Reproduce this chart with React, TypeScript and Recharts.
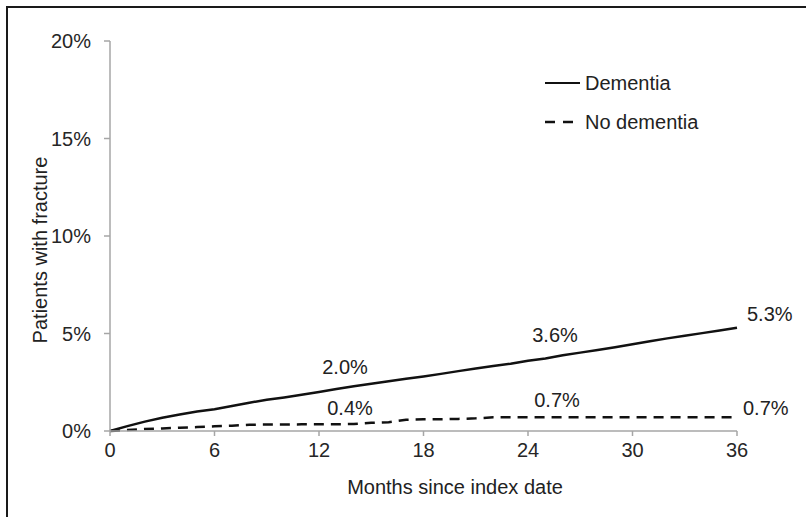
import React from "react";
import { LineChart, Line, XAxis, YAxis } from "recharts";

const FONT = '"Liberation Sans", Arial, sans-serif';

// months since index date
const months = [
  0, 1, 2, 3, 4, 5, 6, 7, 8, 9, 10, 11, 12, 13, 14, 15, 16, 17, 18, 19, 20, 21, 22, 23, 24, 25, 26, 27,
  28, 29, 30, 31, 32, 33, 34, 35, 36,
];
// cumulative % of patients with fracture
const dementia = [
  0, 0.25, 0.48, 0.68, 0.85, 1.0, 1.12, 1.28, 1.45, 1.6, 1.72, 1.86, 2.0, 2.15, 2.3, 2.42, 2.55, 2.68,
  2.8, 2.93, 3.07, 3.2, 3.33, 3.45, 3.6, 3.72, 3.88, 4.02, 4.15, 4.3, 4.45, 4.6, 4.75, 4.88, 5.02, 5.15,
  5.3,
];
const noDementia = [
  0, 0.05, 0.1, 0.13, 0.17, 0.2, 0.24, 0.27, 0.32, 0.33, 0.33, 0.34, 0.34, 0.35, 0.36, 0.42, 0.45, 0.58,
  0.6, 0.6, 0.62, 0.65, 0.7, 0.7, 0.7, 0.7, 0.7, 0.7, 0.7, 0.7, 0.7, 0.7, 0.7, 0.7, 0.7, 0.7, 0.7,
];

const monthTicks = [0, 6, 12, 18, 24, 30, 36];
const pctTicks = [0, 5, 10, 15, 20];

// annotated values
const noteMonths = [12, 24, 36];
const dementiaNotes = ["2.0%", "3.6%", "5.3%"];
const noDementiaNotes = ["0.4%", "0.7%", "0.7%"];

const data = months.map((m, i) => ({ month: m, dementia: dementia[i], noDementia: noDementia[i] }));

type Offset = [number, number, "start" | "middle" | "end"];

const noteLabel = (notes: string[], offsets: Offset[]) => (props: any) => {
  const { x, y, index } = props;
  const k = noteMonths.indexOf(months[index]);
  if (k < 0) return <g key={`e${index}`} />;
  const [dx, dy, anchor] = offsets[k];
  return (
    <text
      key={`n${index}`}
      x={x + dx}
      y={y + dy}
      textAnchor={anchor}
      dominantBaseline="central"
      fontSize={20}
      fontFamily={FONT}
      fill="#222"
    >
      {notes[k]}
    </text>
  );
};

const tickStyle = { fill: "#262626", fontSize: 20, fontFamily: FONT };
const axisGray = "#a6a6a6";

export default function App() {
  return (
    <div
      style={{
        position: "absolute",
        left: 0,
        top: 0,
        width: 806,
        height: 517,
        background: "#fff",
        fontFamily: FONT,
      }}
    >
      <div
        style={{
          position: "absolute",
          left: 6,
          top: 6,
          width: 800,
          height: 511,
          borderLeft: "2px solid #1a1a1a",
          borderTop: "2px solid #1a1a1a",
          boxSizing: "border-box",
        }}
      />
      <LineChart
        width={806}
        height={517}
        data={data}
        margin={{ top: 41, right: 69, left: 10, bottom: 46 }}
        style={{ position: "absolute", left: 0, top: 0 }}
      >
        <XAxis
          type="number"
          dataKey="month"
          domain={[0, 36]}
          ticks={monthTicks}
          interval={0}
          height={40}
          tickSize={5}
          tickMargin={7}
          tick={tickStyle}
          axisLine={{ stroke: axisGray, strokeWidth: 1.5 }}
          tickLine={{ stroke: axisGray, strokeWidth: 1.5 }}
          label={{
            content: () => (
              <text
                x={455}
                y={487}
                textAnchor="middle"
                dominantBaseline="central"
                fontSize={20}
                fontFamily={FONT}
                fill="#222"
              >
                Months since index date
              </text>
            ),
          }}
        />
        <YAxis
          type="number"
          domain={[0, 20]}
          ticks={pctTicks}
          interval={0}
          width={100}
          tickSize={6}
          tickMargin={13}
          tick={tickStyle}
          tickFormatter={(v) => `${v}%`}
          axisLine={{ stroke: axisGray, strokeWidth: 1.5 }}
          tickLine={{ stroke: axisGray, strokeWidth: 1.5 }}
          label={{
            content: () => (
              <text
                x={40}
                y={250}
                transform="rotate(-90, 40, 250)"
                textAnchor="middle"
                dominantBaseline="central"
                fontSize={20}
                fontFamily={FONT}
                fill="#222"
              >
                Patients with fracture
              </text>
            ),
          }}
        />
        <Line
          type="linear"
          dataKey="noDementia"
          stroke="#111"
          strokeWidth={2.5}
          strokeDasharray="10 7"
          dot={false}
          activeDot={false}
          isAnimationActive={false}
          label={noteLabel(noDementiaNotes, [
            [31, -16, "middle"],
            [29, -17, "middle"],
            [6, -9, "start"],
          ])}
        />
        <Line
          type="linear"
          dataKey="dementia"
          stroke="#111"
          strokeWidth={2.5}
          dot={false}
          activeDot={false}
          isAnimationActive={false}
          label={noteLabel(dementiaNotes, [
            [26, -25, "middle"],
            [27, -26, "middle"],
            [10, -14, "start"],
          ])}
        />
      </LineChart>
      <svg
        width={806}
        height={517}
        style={{ position: "absolute", left: 0, top: 0, pointerEvents: "none" }}
      >
        <line x1={545} y1={83} x2={580} y2={83} stroke="#111" strokeWidth={2} />
        <text x={585} y={83} dominantBaseline="central" fontSize={20} fontFamily={FONT} fill="#222">
          Dementia
        </text>
        <line
          x1={545}
          y1={122}
          x2={575}
          y2={122}
          stroke="#111"
          strokeWidth={2.5}
          strokeDasharray="10 8"
        />
        <text x={585} y={122} dominantBaseline="central" fontSize={20} fontFamily={FONT} fill="#222">
          No dementia
        </text>
      </svg>
    </div>
  );
}
